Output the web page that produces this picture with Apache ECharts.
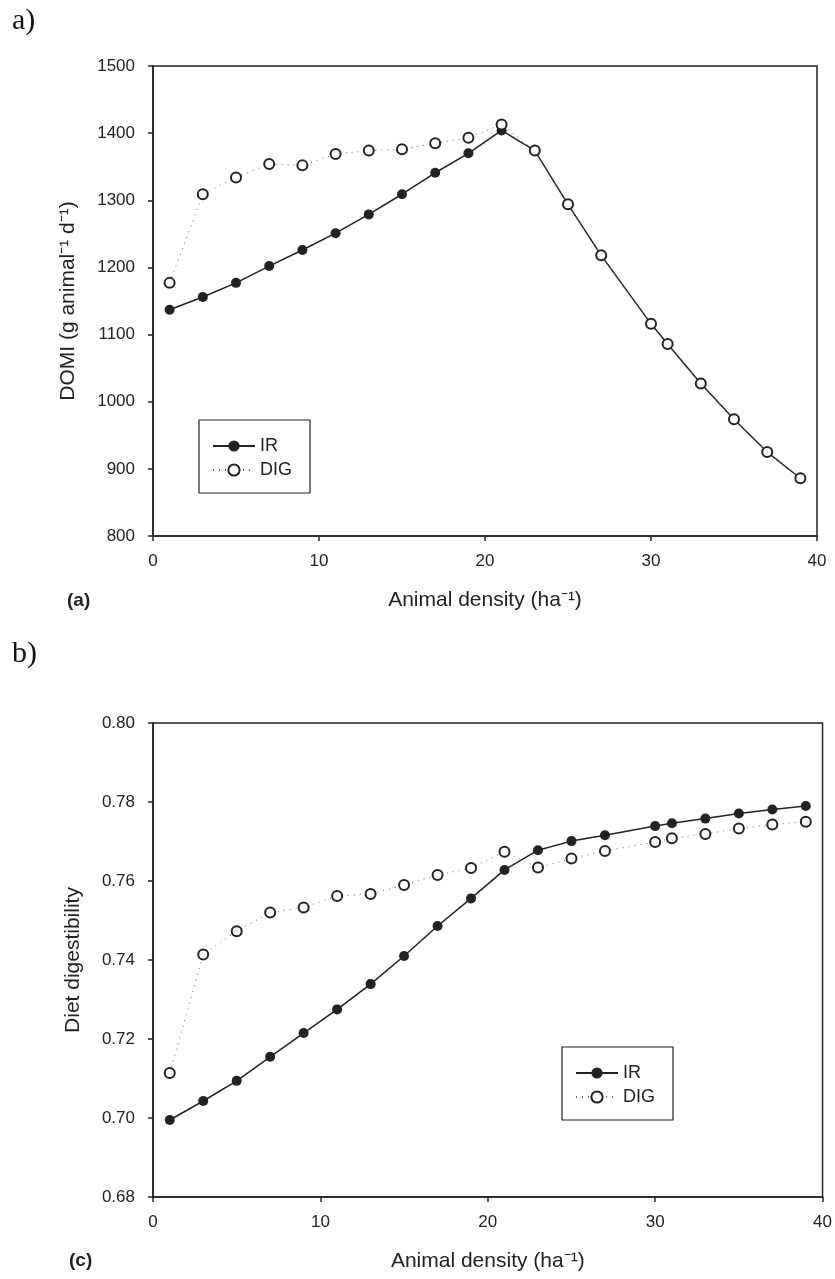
<!DOCTYPE html>
<html lang="en" style="height: 100%">
<head>
  <meta charset="utf-8">
</head>
<body style="height: 100%; margin: 0; background: #fff">
  <div id="container" style="width: 835px; height: 1279px"></div>

  <script type="text/javascript" src="https://cdn.jsdelivr.net/npm/echarts@6/dist/echarts.min.js"></script>

  <script type="text/javascript">
    var dom = document.getElementById('container');
    var myChart = echarts.init(dom, null, { renderer: 'canvas' });

    // animal density (ha-1), same for both panels
    const density = [1, 3, 5, 7, 9, 11, 13, 15, 17, 19, 21, 23, 25, 27, 30, 31, 33, 35, 37, 39];
    // panel a: DOMI (g animal-1 d-1)
    const domiIR = [1137, 1156, 1177, 1202, 1226, 1251, 1279, 1309, 1341, 1370, 1404, 1374, 1294, 1218, 1116, 1086, 1027, 974, 925, 886];
    const domiDIG = [1177, 1309, 1334, 1354, 1352, 1369, 1374, 1376, 1385, 1393, 1413, 1374, 1294, 1218, 1116, 1086, 1027, 974, 925, 886];
    // panel c: diet digestibility
    const digestIR = [0.6995, 0.7043, 0.7094, 0.7155, 0.7215, 0.7275, 0.7339, 0.7410, 0.7486, 0.7556, 0.7628, 0.7678, 0.7701, 0.7716, 0.7739, 0.7746, 0.7758, 0.7771, 0.7781, 0.7790];
    const digestDIG = [0.7114, 0.7414, 0.7473, 0.7520, 0.7533, 0.7562, 0.7567, 0.7590, 0.7615, 0.7633, 0.7674, 0.7634, 0.7657, 0.7676, 0.7699, 0.7708, 0.7719, 0.7733, 0.7743, 0.7750];

    const ink = '#222';
    const font = 'Liberation Sans, Arial, sans-serif';

    function pairs(ys) {
      return density.map(function (x, i) { return [x, ys[i]]; });
    }

    function xAx(gi) {
      return {
        type: 'value', gridIndex: gi, min: 0, max: 40, interval: 10,
        name: 'Animal density (ha\u207B\u00B9)', nameLocation: 'middle', nameGap: 54,
        nameTextStyle: { color: ink, fontSize: 21, fontFamily: font },
        axisLine: { lineStyle: { color: ink, width: 1.5 } },
        axisTick: { inside: false, length: 5, lineStyle: { color: ink, width: 1.5 } },
        axisLabel: { color: ink, fontSize: 17, fontFamily: font, margin: 17 },
        splitLine: { show: false }
      };
    }

    function yAx(gi, min, max, step, name, gap, dec) {
      return {
        type: 'value', gridIndex: gi, min: min, max: max, interval: step,
        name: name, nameLocation: 'middle', nameGap: gap,
        nameTextStyle: { color: ink, fontSize: 21, fontFamily: font },
        axisLine: { lineStyle: { color: ink, width: 1.5 } },
        axisTick: { inside: false, length: 5, lineStyle: { color: ink, width: 1.5 } },
        axisLabel: {
          color: ink, fontSize: 17, fontFamily: font, margin: 18,
          formatter: function (v) { return v.toFixed(dec); }
        },
        splitLine: { show: false }
      };
    }

    function irSeries(gi, ys) {
      return {
        name: 'IR', type: 'line', xAxisIndex: gi, yAxisIndex: gi, z: 2,
        data: pairs(ys),
        symbol: 'circle', symbolSize: 10,
        itemStyle: { color: ink },
        lineStyle: { color: ink, width: 1.5 },
        animation: false
      };
    }

    function digSeries(gi, ys) {
      return {
        name: 'DIG', type: 'line', xAxisIndex: gi, yAxisIndex: gi, z: 3,
        data: pairs(ys),
        symbol: 'emptyCircle', symbolSize: 10,
        itemStyle: { color: ink, borderColor: ink, borderWidth: 1.5 },
        lineStyle: { color: '#666', width: 1, type: [1, 5] },
        animation: false
      };
    }

    function legendBox(left, top) {
      return {
        data: ['IR', 'DIG'], orient: 'vertical', left: left, top: top,
        borderColor: ink, borderWidth: 1.2, borderRadius: 0,
        padding: [17, 18, 14, 13], itemGap: 6, itemWidth: 42, itemHeight: 14,
        selectedMode: false,
        textStyle: { color: ink, fontSize: 18, fontFamily: font, lineHeight: 17 }
      };
    }

    var option = {
      backgroundColor: '#fff',
      animation: false,
      grid: [
        { left: 153, right: 18, top: 66, height: 470, show: true, borderColor: ink, borderWidth: 1.5, backgroundColor: 'transparent' },
        { left: 153, right: 12, top: 723, height: 474, show: true, borderColor: ink, borderWidth: 1.5, backgroundColor: 'transparent' }
      ],
      xAxis: [xAx(0), xAx(1)],
      yAxis: [
        yAx(0, 800, 1500, 100, 'DOMI (g animal\u207B\u00B9 d\u207B\u00B9)', 74, 0),
        yAx(1, 0.68, 0.80, 0.02, 'Diet digestibility', 69, 2)
      ],
      legend: [legendBox(199, 420), legendBox(562, 1047)],
      series: [
        irSeries(0, domiIR), digSeries(0, domiDIG),
        irSeries(1, digestIR), digSeries(1, digestDIG)
      ],
      graphic: [
        { type: 'text', left: 12, top: 6, style: { text: 'a)', font: '30px "Liberation Serif", serif', fill: '#111' } },
        { type: 'text', left: 12, top: 639, style: { text: 'b)', font: '30px "Liberation Serif", serif', fill: '#111' } },
        { type: 'text', left: 67, top: 591, style: { text: '(a)', font: 'bold 19px "Liberation Sans", Arial, sans-serif', fill: ink } },
        { type: 'text', left: 69, top: 1251, style: { text: '(c)', font: 'bold 19px "Liberation Sans", Arial, sans-serif', fill: ink } }
      ]
    };

    myChart.setOption(option);
    window.addEventListener('resize', myChart.resize);
  </script>
</body>
</html>
